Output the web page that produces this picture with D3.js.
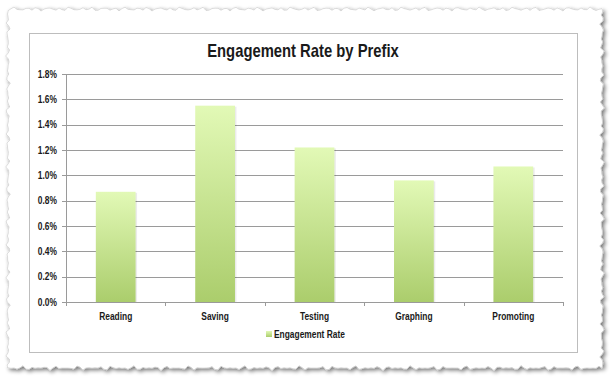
<!DOCTYPE html>
<html>
<head>
<meta charset="utf-8">
<script src="https://cdn.jsdelivr.net/npm/d3@7"></script>
<style>
  body { margin: 0; background: #fff; }
  text { font-family: "Liberation Sans", Arial, sans-serif; font-weight: bold; }
</style>
</head>
<body>
<div id="chart"></div>
<script>
// chart values
var categories = ["Reading", "Saving", "Testing", "Graphing", "Promoting"];
var rates = [0.87, 1.55, 1.22, 0.96, 1.07];
var yTicks = [0, 0.2, 0.4, 0.6, 0.8, 1.0, 1.2, 1.4, 1.6, 1.8];
var seriesName = "Engagement Rate";
var chartTitle = "Engagement Rate by Prefix";

var svgWidth = 610, svgHeight = 378;
var squeeze = 0.8; // condensed look of the original font

var svg = d3.select("#chart").append("svg")
    .attr("width", svgWidth)
    .attr("height", svgHeight);

var defs = svg.append("defs");

var shadow = defs.append("filter").attr("id", "shadow")
    .attr("x", "-5%").attr("y", "-5%").attr("width", "110%").attr("height", "110%");
shadow.append("feGaussianBlur").attr("in", "SourceAlpha").attr("stdDeviation", 2.2);
shadow.append("feOffset").attr("dx", 2).attr("dy", 2).attr("result", "blur");
shadow.append("feComponentTransfer").append("feFuncA").attr("type", "linear").attr("slope", 0.55);
var merge = shadow.append("feMerge");
merge.append("feMergeNode");
merge.append("feMergeNode").attr("in", "SourceGraphic");

var grad = defs.append("linearGradient").attr("id", "barFill")
    .attr("x1", 0).attr("y1", 0).attr("x2", 0).attr("y2", 1);
grad.append("stop").attr("offset", "0%").attr("stop-color", "#e2f9b6");
grad.append("stop").attr("offset", "100%").attr("stop-color", "#abcd6c");

// torn paper edge (deterministic wobble)
function wob(i, k) {
    return 1.1 * Math.sin(i * 1.7 + k) + 0.8 * Math.sin(i * 3.9 + k * 2) + 0.6 * Math.sin(i * 7.3 + k * 3);
}
var pts = [];
var L = 8, T = 9, R = 602, B = 368, step = 3, i;
for (i = 0; L + i * step <= R; i++) pts.push([L + i * step, T + wob(i, 1)]);
for (i = 0; T + i * step <= B; i++) pts.push([R + wob(i, 2), T + i * step]);
for (i = 0; R - i * step >= L; i++) pts.push([R - i * step, B + wob(i, 3)]);
for (i = 0; B - i * step >= T; i++) pts.push([L + wob(i, 4), B - i * step]);

svg.append("path")
    .attr("d", d3.line()(pts) + "Z")
    .attr("fill", "#fff")
    .attr("stroke", "#c8c8c8")
    .attr("stroke-width", 0.6)
    .attr("filter", "url(#shadow)");

// chart frame
svg.append("rect")
    .attr("x", 29.5).attr("y", 33.5)
    .attr("width", 548).attr("height", 319)
    .attr("fill", "#fff")
    .attr("stroke", "#bdbdbd")
    .attr("stroke-width", 1);

// helper: text squeezed horizontally
function narrowText(sel, x, y, size, anchor, str) {
    return sel.append("text")
        .attr("transform", `translate(${x}, ${y}) scale(${squeeze}, 1)`)
        .attr("text-anchor", anchor)
        .attr("font-size", size + "px")
        .attr("fill", "#1a1a1a")
        .text(str);
}

narrowText(svg, 303, 57, 18.5, "middle", chartTitle);

var margin = { top: 74, left: 66 };
var width = 497, height = 228;

var g = svg.append("g").attr("transform", `translate(${margin.left}, ${margin.top})`);

var x = d3.scaleBand().domain(categories).range([0, width]).paddingInner(0.6).paddingOuter(0.3);
var xOuter = d3.scaleBand().domain(categories).range([0, width]);
var y = d3.scaleLinear().domain([0, 1.8]).range([height, 0]);

// gridlines
g.selectAll(".grid").data(yTicks).enter().append("line")
    .attr("x1", -4).attr("x2", width)
    .attr("y1", d => Math.round(y(d)) + 0.5)
    .attr("y2", d => Math.round(y(d)) + 0.5)
    .attr("stroke", "#9a9a9a")
    .attr("stroke-width", 1);

// y tick labels
yTicks.forEach(function(t) {
    narrowText(g, -9, y(t) + 3.5, 10.5, "end", t.toFixed(1) + "%");
});

g.append("line")
    .attr("x1", 0.5).attr("x2", 0.5).attr("y1", 0).attr("y2", height + 4)
    .attr("stroke", "#9a9a9a");

// bars
g.selectAll(".bar").data(rates).enter().append("rect")
    .attr("x", (d, i) => x(categories[i]) + 1.5)
    .attr("y", d => y(d) + 1)
    .attr("width", x.bandwidth())
    .attr("height", d => height - y(d) - 1)
    .attr("fill", "#000").attr("opacity", 0.08);

g.selectAll(".barFill").data(rates).enter().append("rect")
    .attr("x", (d, i) => x(categories[i]))
    .attr("y", d => y(d))
    .attr("width", x.bandwidth())
    .attr("height", d => height - y(d))
    .attr("fill", "url(#barFill)");

// x axis
g.append("line")
    .attr("x1", 0).attr("x2", width)
    .attr("y1", height + 0.5).attr("y2", height + 0.5)
    .attr("stroke", "#9a9a9a");

var bounds = categories.map(c => xOuter(c)).concat([width]);
g.selectAll(".xtick").data(bounds).enter().append("line")
    .attr("x1", d => Math.round(d) + 0.5).attr("x2", d => Math.round(d) + 0.5)
    .attr("y1", height).attr("y2", height + 4)
    .attr("stroke", "#9a9a9a");

categories.forEach(function(c) {
    narrowText(g, xOuter(c) + xOuter.bandwidth() / 2, height + 18, 10.5, "middle", c);
});

// legend
var legend = svg.append("g").attr("transform", "translate(266, 338)");
legend.append("rect").attr("x", 0).attr("y", -7).attr("width", 6).attr("height", 6)
    .attr("fill", "url(#barFill)");
narrowText(legend, 8, 0, 10.5, "start", seriesName);
</script>
</body>
</html>
